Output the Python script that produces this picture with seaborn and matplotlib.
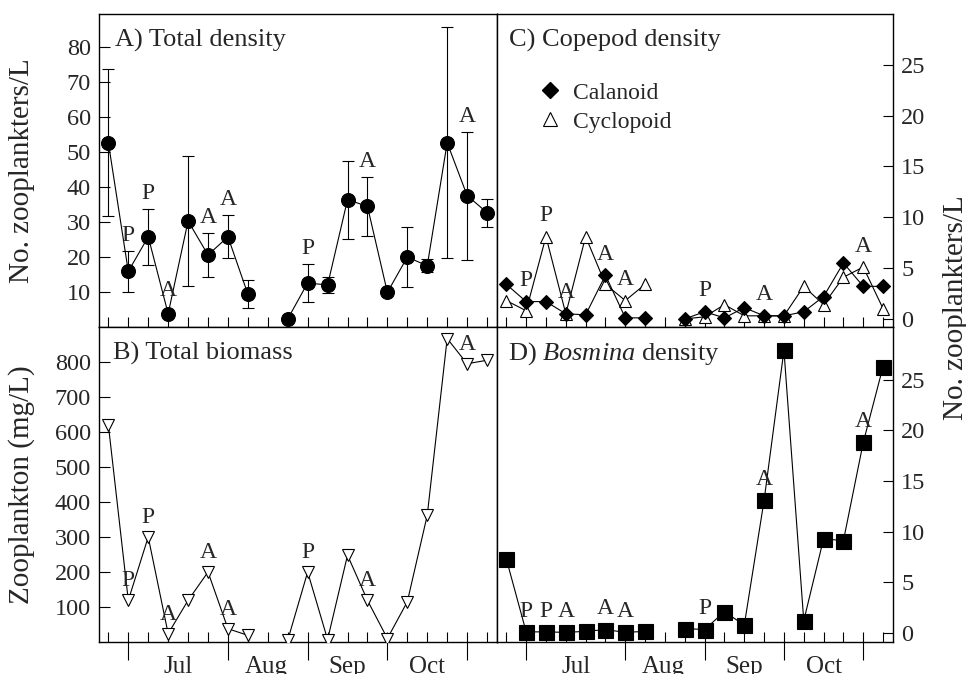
import numpy as np
import pandas as pd
import seaborn as sns
import matplotlib.pyplot as plt
from matplotlib.lines import Line2D

# sampling dates (index along the season), gap at position 8
sample = np.arange(20)

total_density = [52.7, 15.9, 25.8, 3.8, 30.3, 20.6, 25.8, 9.4, np.nan, 2.3,
                 12.6, 12.0, 36.4, 34.5, 9.9, 20.0, 17.5, 52.7, 37.6, 32.7]
density_err = [21.0, 5.8, 8.0, 0.0, 18.7, 6.2, 6.2, 4.1, np.nan, 0.0,
               5.4, 2.2, 11.2, 8.5, 0.0, 8.6, 1.9, 33.0, 18.3, 4.0]

total_biomass = [620, 119, 300, 24, 119, 200, 38, 19, np.nan, 5,
                 200, 7, 248, 119, 10, 115, 362, 867, 795, 805]

calanoid = [3.4, 1.7, 1.7, 0.5, 0.4, 4.3, 0.1, 0.1, np.nan, 0.0,
            0.7, 0.1, 1.1, 0.3, 0.3, 0.7, 2.2, 5.5, 3.2, 3.2]
cyclopoid = [1.8, 0.8, 8.1, 0.5, 8.1, 3.4, 1.8, 3.4, np.nan, 0.0,
             0.2, 1.4, 0.3, 0.3, 0.3, 3.2, 1.4, 4.1, 5.1, 1.0]

bosmina = [7.3, 0.1, 0.1, 0.05, 0.15, 0.33, 0.05, 0.15, np.nan, 0.43,
           0.33, 2.1, 0.76, 13.1, 27.9, 1.2, 9.3, 9.1, 18.8, 26.3]

# P / A labels above selected samples
mark_idx = [1, 2, 3, 5, 6, 10, 13, 18]
mark_txt = ['P', 'P', 'A', 'A', 'A', 'P', 'A', 'A']

month_ticks = [1, 6, 10, 14, 18]
month_pos = [3.5, 7.9, 12, 16]
month_names = ['Jul', 'Aug', 'Sep', 'Oct']

sns.set_theme(style='ticks')
plt.rcParams['font.family'] = ['Liberation Serif', 'DejaVu Serif']
plt.rcParams['mathtext.fontset'] = 'custom'
plt.rcParams['mathtext.rm'] = 'Liberation Serif'
plt.rcParams['mathtext.it'] = 'Liberation Serif:italic'

W, H = 966, 674
TICK_FS = 17.5
fig = plt.figure(figsize=(W / 100, H / 100), dpi=100)


def box(x0, y0, x1, y1):
    return [x0 / W, 1 - y1 / H, (x1 - x0) / W, (y1 - y0) / H]


axA = fig.add_axes(box(99, 14, 497, 327))
axB = fig.add_axes(box(99, 327, 497, 642))
axC = fig.add_axes(box(497, 14, 893, 327))
axD = fig.add_axes(box(497, 327, 893, 642))


def frame(values):
    df = pd.DataFrame({'sample': sample, 'value': values})
    df['seg'] = (df['sample'] > 8).astype(int)
    return df.dropna()


def draw(ax, values, marker, size, face):
    sns.lineplot(data=frame(values), x='sample', y='value', units='seg',
                 estimator=None, color='black', linewidth=0.8, marker=marker,
                 markersize=size, markerfacecolor=face,
                 markeredgecolor='black', markeredgewidth=0.8, ax=ax,
                 legend=False, zorder=3)


def annotate(ax, tops):
    for i, t in zip(mark_idx, mark_txt):
        y, off = tops[i]
        ax.annotate(t, xy=(i, y), xytext=(0, off), textcoords='offset points',
                    ha='center', va='center', fontsize=17)


def style(ax, side, bottom_row):
    ax.set_xlim(-0.47, 19.5)
    ax.set_xlabel('')
    ax.set_ylabel('')
    for s in ax.spines.values():
        s.set_visible(True)
        s.set_color('black')
        s.set_linewidth(1.0)
    if bottom_row:
        ax.set_xticks(month_ticks)
        ax.set_xticks(sample, minor=True)
        ax.xaxis.remove_overlapping_locs = False
        ax.tick_params(axis='x', which='major', direction='out', length=13,
                       width=0.8, color='black', labelbottom=False)
        ax.tick_params(axis='x', which='minor', direction='in', length=7,
                       width=0.8, color='black')
        for p, m in zip(month_pos, month_names):
            ax.text(p, -0.046, m, transform=ax.get_xaxis_transform(),
                    ha='center', va='top', fontsize=18)
    else:
        ax.set_xticks(sample)
        ax.tick_params(axis='x', which='major', direction='in', length=7,
                       width=0.8, color='black', labelbottom=False)
    if side == 'left':
        ax.tick_params(axis='y', direction='in', length=8, width=0.8,
                       color='black', labelsize=TICK_FS, pad=6, left=True,
                       right=False, labelleft=True, labelright=False)
    else:
        ax.tick_params(axis='y', direction='in', length=7, width=0.8,
                       color='black', labelsize=TICK_FS, pad=6, left=False,
                       right=True, labelleft=False, labelright=True)


# A) total density
draw(axA, total_density, 'o', 10, 'black')
err = np.nan_to_num(density_err)
axA.errorbar(sample, total_density, yerr=err, fmt='none', ecolor='black',
             elinewidth=0.8, capsize=4, capthick=0.8, zorder=2)
tops = {i: ((total_density[i] + err[i], 11) if err[i] > 0 else (total_density[i], 17))
        for i in mark_idx}
annotate(axA, tops)
axA.set_ylim(0, 89.5)
axA.set_yticks(range(10, 90, 10))
style(axA, 'left', False)
axA.text(0.04, 0.895, 'A) Total density', transform=axA.transAxes, fontsize=19)
axA.set_ylabel('No. zooplankters/L', fontsize=21)
axA.yaxis.set_label_coords(-0.161, 0.5)

# B) total biomass
draw(axB, total_biomass, 'v', 9, 'white')
annotate(axB, {i: (total_biomass[i], 14) for i in mark_idx})
axB.set_ylim(0, 900)
axB.set_yticks(range(100, 900, 100))
style(axB, 'left', True)
axB.text(0.034, 0.895, 'B) Total biomass', transform=axB.transAxes, fontsize=19)
axB.set_ylabel('Zooplankton (mg/L)', fontsize=21)
axB.yaxis.set_label_coords(-0.161, 0.5)

# C) copepod density
draw(axC, cyclopoid, '^', 9, 'white')
draw(axC, calanoid, 'D', 7.5, 'black')
annotate(axC, {i: (max(calanoid[i], cyclopoid[i]), 15) for i in mark_idx})
axC.set_ylim(-0.8, 30)
axC.set_yticks(range(0, 30, 5))
style(axC, 'right', False)
axC.text(0.031, 0.895, 'C) Copepod density', transform=axC.transAxes, fontsize=19)
handles = [Line2D([], [], linestyle='none', marker='D', markersize=8.5,
                  markerfacecolor='black', markeredgecolor='black'),
           Line2D([], [], linestyle='none', marker='^', markersize=9.5,
                  markerfacecolor='white', markeredgecolor='black',
                  markeredgewidth=0.8)]
axC.legend(handles, ['Calanoid', 'Cyclopoid'], loc='upper left',
           bbox_to_anchor=(0.1035, 0.782), frameon=False, fontsize=17,
           handlelength=1.0, handletextpad=0.5, borderpad=0,
           borderaxespad=0, labelspacing=0.31)

# D) Bosmina density
draw(axD, bosmina, 's', 10.8, 'black')
annotate(axD, {i: (bosmina[i], 15) for i in mark_idx})
axD.set_ylim(-0.9, 30.2)
axD.set_yticks(range(0, 30, 5))
style(axD, 'right', True)
axD.text(0.028, 0.897, r'D) $\it{Bosmina}$ density', transform=axD.transAxes,
         fontsize=19)

fig.text(956 / W, 1 - 308 / H, 'No. zooplankters/L', rotation=90,
         ha='center', va='center', fontsize=21)

fig.savefig('out.png', dpi=100)
